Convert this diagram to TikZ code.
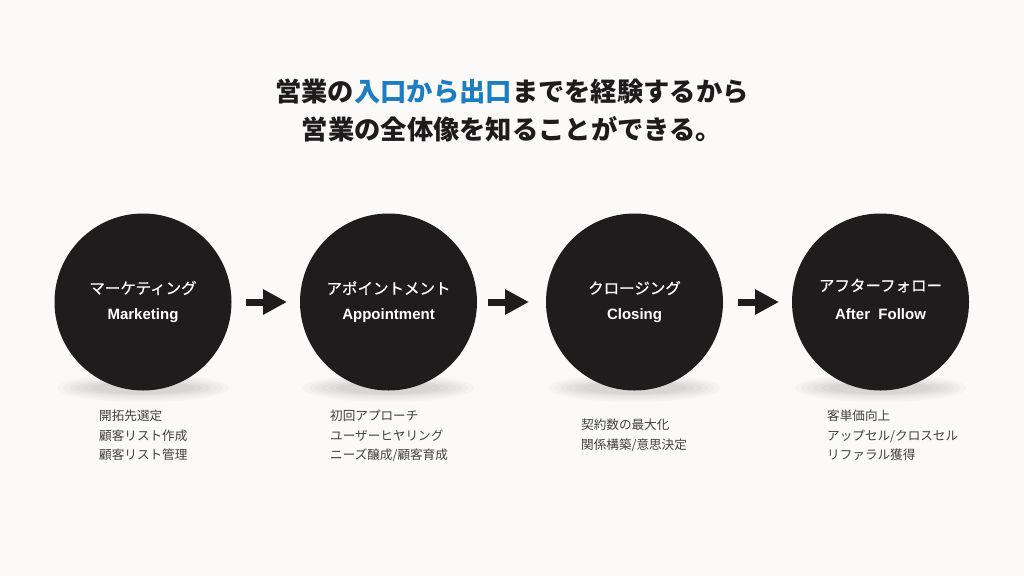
\documentclass[tikz,border=0pt]{standalone}
\usepackage{fontspec}
\setmainfont{Noto Sans CJK JP}
\newfontfamily\jpmed[FakeBold=0.6]{Noto Sans CJK JP}
\newfontfamily\enfont{Liberation Sans}
\usetikzlibrary{arrows.meta}
\definecolor{bg}{HTML}{FCFAF9}
\definecolor{ink}{HTML}{1E1C1D}
\definecolor{hl}{HTML}{1C7EC2}
\definecolor{sub}{HTML}{404040}
\tikzset{
  stepcircle/.style={circle, fill=ink, minimum size=177pt, inner sep=0pt},
  jplabel/.style={text=white, font=\jpmed\fontsize{15.5}{18}\selectfont, inner sep=0pt},
  enlabel/.style={text=white, font=\enfont\fontsize{15}{18}\selectfont\bfseries, inner sep=0pt},
  bigarrow/.style={draw=ink, line width=7pt, -{Triangle[length=24pt,width=24pt]}, shorten >=0pt},
  notes/.style={text=sub, font=\fontsize{12.6}{19.8}\selectfont, align=left, anchor=north west, inner sep=0pt},
  titletext/.style={text=ink, font=\fontsize{26.3}{38}\selectfont\bfseries, align=center, inner sep=0pt},
  shade1/.style={fill=black, opacity=0.025}
}
\begin{document}
\begin{tikzpicture}[x=1pt,y=-1pt]
\fill[bg] (0,0) rectangle (1024,576);
\useasboundingbox (0,0) rectangle (1024,576);

% title
\node[titletext] (t1) at (512,91.5) {営業の\textcolor{hl}{入口から出口}までを経験するから};
\node[titletext] (t2) at (512,129.5) {営業の全体像を知ることができる。};

% shadows and circles
\foreach \cx/\n in {143/1,388.5/2,634.5/3,880.5/4}{
  \foreach \rx/\ry in {86/14,80/12,74/10,68/8,60/7,52/6}{
    \fill[shade1] (\cx,388) ellipse ({\rx} and {\ry});
  }
  \node[stepcircle] (c\n) at (\cx,302) {};
}

\node[jplabel] (j1) at (143,288) {マーケティング};
\node[enlabel] (e1) at (143,316) {Marketing};
\node[jplabel] (j2) at (388.5,288) {アポイントメント};
\node[enlabel] (e2) at (388.5,316) {Appointment};
\node[jplabel] (j3) at (634.5,288) {クロージング};
\node[enlabel] (e3) at (634.5,316) {Closing};
\node[jplabel] (j4) at (880.5,285.5) {アフターフォロー};
\node[enlabel] (e4) at (880.5,314) {After\ \ Follow};

% arrows
\coordinate (a1s) at (246,302); \coordinate (a1e) at (287,302);
\coordinate (a2s) at (488,302); \coordinate (a2e) at (529,302);
\coordinate (a3s) at (738,302); \coordinate (a3e) at (779,302);
\draw[bigarrow] (a1s) -- (a1e);
\draw[bigarrow] (a2s) -- (a2e);
\draw[bigarrow] (a3s) -- (a3e);

% notes
\node[notes] (n1) at (99,409.5) {開拓先選定\\顧客リスト作成\\顧客リスト管理};
\node[notes] (n2) at (330,409.5) {初回アプローチ\\ユーザーヒヤリング\\ニーズ醸成/顧客育成};
\node[notes] (n3) at (581,419) {契約数の最大化\\関係構築/意思決定};
\node[notes] (n4) at (827,409.5) {客単価向上\\アップセル/クロスセル\\リファラル獲得};
\end{tikzpicture}
\end{document}
